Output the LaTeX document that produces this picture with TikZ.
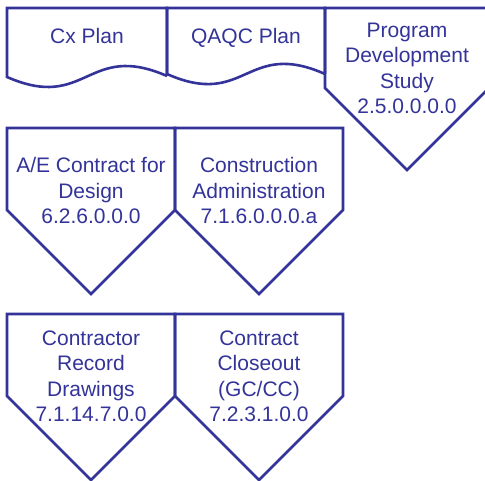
\documentclass[tikz,border=0pt]{standalone}
\usepackage{fontspec}
\setmainfont{Liberation Sans}
\definecolor{vblue}{RGB}{51,51,153}
\begin{document}
\begin{tikzpicture}[x=1pt,y=-1pt,
  shp/.style={draw=vblue, line width=2.6pt},
  lbl/.style={text=vblue, font=\fontsize{21}{25.5}\selectfont, align=center, anchor=base, inner sep=0pt}]
\useasboundingbox (0,0) rectangle (485,481);
\clip (0,0) rectangle (485,481);
% top row: document shapes
\draw[shp] (167,76) -- (167,8) -- (7,8) -- (7,77) .. controls (87,112) and (87,41) .. (167,76);
\draw[shp] (325,74) -- (325,8) -- (167,8) -- (167,74) .. controls (246,109) and (246,39) .. (325,74);
% off-page connector top row
\draw[shp] (325,8) -- (489,8) -- (489,88) -- (407,170) -- (325,88) -- cycle;
% row 2
\draw[shp] (7,128) -- (175,128) -- (175,210) -- (91,294) -- (7,210) -- cycle;
\draw[shp] (175,128) -- (343,128) -- (343,210) -- (259,294) -- (175,210) -- cycle;
% row 3
\draw[shp] (7,314) -- (175,314) -- (175,396) -- (91,480) -- (7,396) -- cycle;
\draw[shp] (175,314) -- (343,314) -- (343,396) -- (259,480) -- (175,396) -- cycle;
% labels (anchor = baseline of last line)
\node[lbl] (cx) at (87,44) {Cx Plan};
\node[lbl] (qaqc) at (246,44) {QAQC Plan};
\node[lbl] (pds) at (407,114) {Program\\Development\\Study\\2.5.0.0.0.0};
\node[lbl] (ae) at (91,224) {A/E Contract for\\Design\\6.2.6.0.0.0};
\node[lbl] (ca) at (259,224) {Construction\\Administration\\7.1.6.0.0.0.a};
\node[lbl] (crd) at (91,421.5) {Contractor\\Record\\Drawings\\7.1.14.7.0.0};
\node[lbl] (cc) at (259,421.5) {Contract\\Closeout\\(GC/CC)\\7.2.3.1.0.0};
\end{tikzpicture}
\end{document}
